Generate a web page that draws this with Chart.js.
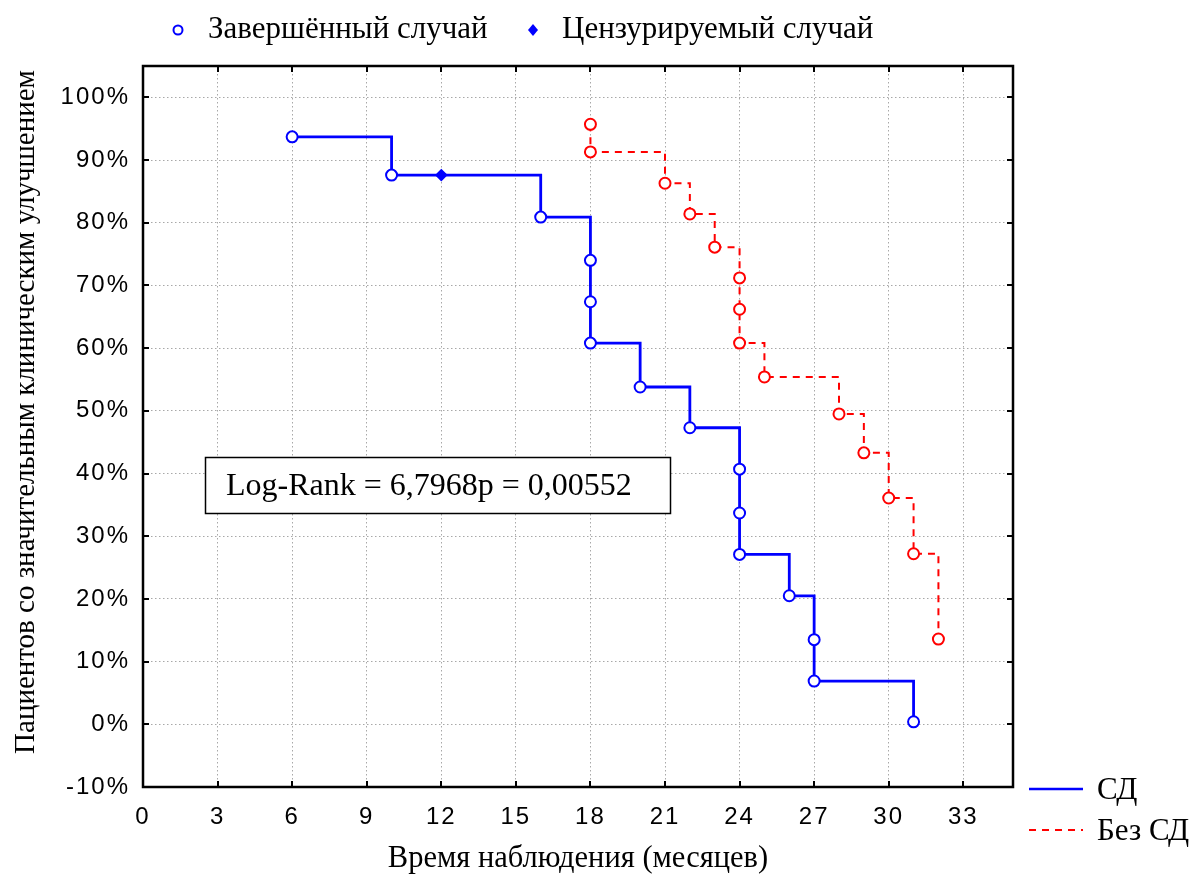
<!DOCTYPE html>
<html>
<head>
<meta charset="utf-8">
<script src="https://cdn.jsdelivr.net/npm/chart.js@4.4.1/dist/chart.umd.min.js"></script>
<style>
  html, body { margin: 0; padding: 0; background: #fff; }
  #wrap { width: 1193px; height: 884px; position: relative; }
</style>
</head>
<body>
<div id="wrap"><canvas id="kmChart"></canvas></div>
<script>
// Kaplan-Meier curves (months, % still without improvement)
const sdTime = [6, 10, 12, 16, 18, 18, 18, 20, 22, 24, 24, 24, 26, 27, 27, 31];
const sdSurv = [93.7, 87.6, 87.6, 80.9, 74.0, 67.4, 60.8, 53.8, 47.3, 40.7, 33.7, 27.1, 20.5, 13.5, 6.9, 0.4];
const sdCensored = [false, false, true, false, false, false, false, false, false, false, false, false, false, false, false, false];

const noSdTime = [18, 18, 21, 22, 23, 24, 24, 24, 25, 28, 29, 30, 31, 32];
const noSdSurv = [95.7, 91.3, 86.3, 81.4, 76.1, 71.2, 66.2, 60.8, 55.4, 49.5, 43.3, 36.1, 27.2, 13.6];

const xTickLabels = [0, 3, 6, 9, 12, 15, 18, 21, 24, 27, 30, 33];
const yTickLabels = [-10, 0, 10, 20, 30, 40, 50, 60, 70, 80, 90, 100];

const seriesNames = ["СД", "Без СД"];
const markerNames = ["Завершённый случай", "Цензурируемый случай"];
const xTitle = "Время наблюдения (месяцев)";
const yTitle = "Пациентов со значительным клиническим улучшением";
const statText = "Log-Rank = 6,7968p = 0,00552";

const BLUE = "#0000ff";
const RED = "#ff0000";
const SERIF = '"Liberation Serif", "Times New Roman", serif';
const SANS = '"Liberation Sans", Arial, sans-serif';

const toPoints = (xs, ys) => xs.map((x, i) => ({ x: x, y: ys[i] }));

// frame + inward tick marks
const framePlugin = {
  id: "frame",
  beforeDraw(chart) {
    chart.ctx.letterSpacing = "2px"; // tick labels are spaced out in the original
  },
  beforeDatasetsDraw(chart) {
    const { ctx, chartArea: a, scales: { x, y } } = chart;
    ctx.save();
    ctx.strokeStyle = "#000";
    ctx.lineWidth = 2;
    ctx.beginPath();
    x.ticks.forEach(t => {
      const px = Math.round(x.getPixelForValue(t.value));
      ctx.moveTo(px, a.bottom); ctx.lineTo(px, a.bottom - 6);
      ctx.moveTo(px, a.top); ctx.lineTo(px, a.top + 6);
    });
    y.ticks.forEach(t => {
      const py = Math.round(y.getPixelForValue(t.value));
      ctx.moveTo(a.left, py); ctx.lineTo(a.left + 6, py);
      ctx.moveTo(a.right, py); ctx.lineTo(a.right - 6, py);
    });
    ctx.stroke();
    ctx.lineWidth = 2.5;
    ctx.strokeRect(a.left, a.top, a.right - a.left, a.bottom - a.top);
    ctx.restore();
  }
};

// stat box, legends and axis titles
const extrasPlugin = {
  id: "extras",
  afterDraw(chart) {
    const { ctx, chartArea: a } = chart;
    ctx.save();
    ctx.letterSpacing = "0px";

    // Log-Rank box
    ctx.fillStyle = "#fff";
    ctx.fillRect(205, 457, 465, 56);
    ctx.strokeStyle = "#000";
    ctx.lineWidth = 1.5;
    ctx.strokeRect(205.5, 457.5, 465, 56);
    ctx.fillStyle = "#000";
    ctx.font = "32px " + SERIF;
    ctx.textAlign = "left";
    ctx.textBaseline = "middle";
    ctx.fillText(statText, 226, 487);

    // top marker legend
    ctx.strokeStyle = BLUE;
    ctx.lineWidth = 2;
    ctx.beginPath();
    ctx.arc(178, 30, 4.5, 0, Math.PI * 2);
    ctx.stroke();
    ctx.fillStyle = BLUE;
    ctx.beginPath();
    ctx.moveTo(533, 24); ctx.lineTo(538, 30); ctx.lineTo(533, 36); ctx.lineTo(528, 30);
    ctx.closePath();
    ctx.fill();
    ctx.fillStyle = "#000";
    ctx.font = "31px " + SERIF;
    ctx.fillText(markerNames[0], 208, 30);
    ctx.fillText(markerNames[1], 562, 30);

    // bottom-right series legend
    ctx.lineWidth = 2.5;
    ctx.strokeStyle = BLUE;
    ctx.beginPath(); ctx.moveTo(1029, 789); ctx.lineTo(1083, 789); ctx.stroke();
    ctx.strokeStyle = RED;
    ctx.lineWidth = 2;
    ctx.setLineDash([7, 6]);
    ctx.beginPath(); ctx.moveTo(1029, 830); ctx.lineTo(1083, 830); ctx.stroke();
    ctx.setLineDash([]);
    ctx.fillStyle = "#000";
    ctx.font = "31px " + SERIF;
    ctx.fillText(seriesNames[0], 1097, 791);
    ctx.fillText(seriesNames[1], 1097, 832);

    // x axis title
    ctx.textAlign = "center";
    ctx.font = "30.5px " + SERIF;
    ctx.fillText(xTitle, (a.left + a.right) / 2, 859);

    // y axis title
    ctx.translate(26, 412);
    ctx.rotate(-Math.PI / 2);
    ctx.font = "29px " + SERIF;
    ctx.fillText(yTitle, 0, 0);
    ctx.restore();
  }
};

const ctx = document.getElementById("kmChart").getContext("2d");
const myChart = new Chart(ctx, {
  type: "line",
  data: {
    datasets: [
      {
        label: seriesNames[0],
        data: toPoints(sdTime, sdSurv),
        stepped: true,
        borderColor: BLUE,
        borderWidth: 2.8,
        pointStyle: sdCensored.map(c => (c ? "rectRot" : "circle")),
        pointRadius: sdCensored.map(c => (c ? 5 : 5.5)),
        pointBorderColor: BLUE,
        pointBackgroundColor: sdCensored.map(c => (c ? BLUE : "#fff")),
        pointBorderWidth: 2,
        fill: false,
        clip: false,
      },
      {
        label: seriesNames[1],
        data: toPoints(noSdTime, noSdSurv),
        stepped: true,
        borderColor: RED,
        borderWidth: 2,
        borderDash: [7, 6],
        pointStyle: "circle",
        pointRadius: 5.5,
        pointBorderColor: RED,
        pointBackgroundColor: "#fff",
        pointBorderWidth: 2,
        fill: false,
        clip: false,
      },
    ],
  },
  options: {
    responsive: true,
    maintainAspectRatio: false,
    animation: false,
    layout: { padding: { top: 66, right: 180, left: 0, bottom: 0 } },
    plugins: {
      legend: { display: false },
      tooltip: { enabled: false },
    },
    scales: {
      x: {
        type: "linear",
        min: 0,
        max: 35,
        afterFit: s => { s.height = 97; },
        afterBuildTicks: s => { s.ticks = xTickLabels.map(v => ({ value: v })); },
        ticks: {
          stepSize: 3,
          includeBounds: false,
          color: "#000",
          padding: 16,
          font: { family: SANS, size: 24 },
        },
        grid: {
          color: "#a8a8a8",
          lineWidth: 1,
          drawTicks: false,
        },
        border: { display: false, dash: [1.5, 2.5] },
      },
      y: {
        type: "linear",
        min: -10,
        max: 105,
        afterFit: s => { s.width = 143; },
        afterBuildTicks: s => { s.ticks = yTickLabels.map(v => ({ value: v })); },
        ticks: {
          stepSize: 10,
          includeBounds: false,
          color: "#000",
          padding: 13,
          font: { family: SANS, size: 24 },
          callback: v => v + "%",
        },
        grid: {
          color: "#a8a8a8",
          lineWidth: 1,
          drawTicks: false,
        },
        border: { display: false, dash: [1.5, 2.5] },
      },
    },
  },
  plugins: [framePlugin, extrasPlugin],
});
</script>
</body>
</html>
